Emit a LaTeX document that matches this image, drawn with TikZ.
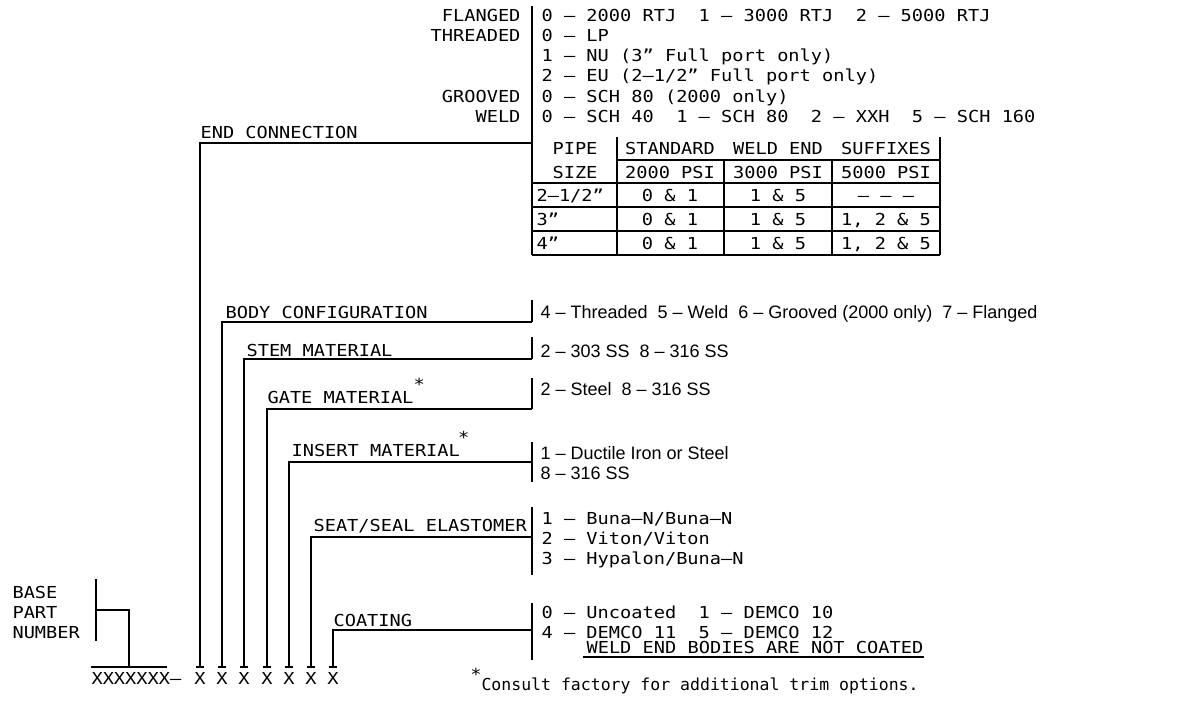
\documentclass[tikz,border=0pt]{standalone}
\usepackage{fontspec}
\newfontfamily\fa{DejaVu Sans Mono}[FakeStretch=1.13]
\newfontfamily\fc{DejaVu Sans Mono}[FakeStretch=1.0]
\newfontfamily\fb{Liberation Sans}
\begin{document}
\begin{tikzpicture}[x=1pt,y=-1pt,line width=1.1pt,
  ta/.style={font=\fa\fontsize{16.5}{18}\selectfont,inner sep=0pt},
  tc/.style={font=\fc\fontsize{16.5}{18}\selectfont,inner sep=0pt},
  tb/.style={font=\fb\fontsize{18}{20}\selectfont,inner sep=0pt}]
\useasboundingbox (0,0) rectangle (1185,704);

% ---------- END CONNECTION block ----------
\node[ta,anchor=base east] (flg) at (521,21) {FLANGED};
\node[ta,anchor=base west] (flgo) at (541,21) {0 — 2000 RTJ~~1 — 3000 RTJ~~2 — 5000 RTJ};
\node[ta,anchor=base east] (thr) at (521,41) {THREADED};
\node[ta,anchor=base west] (thr0) at (541,41) {0 — LP};
\node[ta,anchor=base west] (thr1) at (541,61) {1 — NU (3” Full port only)};
\node[ta,anchor=base west] (thr2) at (541,81) {2 — EU (2—1/2” Full port only)};
\node[ta,anchor=base east] (grv) at (521,102) {GROOVED};
\node[ta,anchor=base west] (grvo) at (541,102) {0 — SCH 80 (2000 only)};
\node[ta,anchor=base east] (wld) at (521,122) {WELD};
\node[ta,anchor=base west] (wldo) at (541,122) {0 — SCH 40~~1 — SCH 80~~2 — XXH~~5 — SCH 160};

% table
\coordinate (bt) at (532,6);
\coordinate (bb) at (532,255);
\draw (bt) -- (bb);
\draw (617,137) -- (617,255);
\draw (940,137) -- (940,255);
\draw (617,160) -- (940,160);
\draw (724,160) -- (724,255);
\draw (832,160) -- (832,255);
\foreach \yy in {183,207,231,255} \draw (532,\yy) -- (940,\yy);
\node[ta,anchor=base] (pipe) at (575,154) {PIPE};
\node[ta,anchor=base] (size) at (575,178) {SIZE};
\node[ta,anchor=base] (std) at (670,154) {STANDARD};
\node[ta,anchor=base] (we) at (778,154) {WELD END};
\node[ta,anchor=base] (suf) at (886,154) {SUFFIXES};
\node[ta,anchor=base] (p2) at (670,178) {2000 PSI};
\node[ta,anchor=base] (p3) at (778,178) {3000 PSI};
\node[ta,anchor=base] (p5) at (886,178) {5000 PSI};
\node[ta,anchor=base west] (r1a) at (536,201) {2—1/2”};
\node[ta,anchor=base] (r1b) at (670,201) {0 \& 1};
\node[ta,anchor=base] (r1c) at (778,201) {1 \& 5};
\node[ta,anchor=base] (r1d) at (886,201) {— — —};
\node[ta,anchor=base west] (r2a) at (536,225) {3”};
\node[ta,anchor=base] (r2b) at (670,225) {0 \& 1};
\node[ta,anchor=base] (r2c) at (778,225) {1 \& 5};
\node[ta,anchor=base] (r2d) at (886,225) {1, 2 \& 5};
\node[ta,anchor=base west] (r3a) at (536,249) {4”};
\node[ta,anchor=base] (r3b) at (670,249) {0 \& 1};
\node[ta,anchor=base] (r3c) at (778,249) {1 \& 5};
\node[ta,anchor=base] (r3d) at (886,249) {1, 2 \& 5};

% ---------- option bars ----------
\draw (532,300) -- (532,322);
\draw (532,337) -- (532,359);
\draw (532,378) -- (532,409);
\draw (532,442) -- (532,482);
\draw (532,507) -- (532,575);
\draw (532,603) -- (532,660);

% ---------- labels ----------
\node[ta,anchor=base west] (lend) at (200,138) {END CONNECTION};
\node[ta,anchor=base west] (lbody) at (225,318) {BODY CONFIGURATION};
\node[ta,anchor=base west] (lstem) at (246,356) {STEM MATERIAL};
\node[ta,anchor=base west] (lgate) at (267,403) {GATE MATERIAL};
\node[ta,anchor=base west] (sgate) at ([xshift=-1pt,yshift=13pt]lgate.base east) {*};
\node[ta,anchor=base west] (lins) at (291,456) {INSERT MATERIAL};
\node[ta,anchor=base west] (sins) at ([xshift=-3pt,yshift=13pt]lins.base east) {*};
\node[ta,anchor=base west] (lseat) at (313,531) {SEAT/SEAL ELASTOMER};
\node[ta,anchor=base west] (lcoat) at (333,626) {COATING};

% ---------- options ----------
\node[tb,anchor=base west] (obody) at (540,318) {4 – Threaded~~5 – Weld~~6 – Grooved (2000 only)~~7 – Flanged};
\node[tb,anchor=base west] (ostem) at (540,357) {2 – 303 SS~~8 – 316 SS};
\node[tb,anchor=base west] (ogate) at (540,395) {2 – Steel~~8 – 316 SS};
\node[tb,anchor=base west] (oins1) at (540,459) {1 – Ductile Iron or Steel};
\node[tb,anchor=base west] (oins2) at (540,479) {8 – 316 SS};
\node[ta,anchor=base west] (os1) at (541,524) {1 — Buna—N/Buna—N};
\node[ta,anchor=base west] (os2) at (541,544) {2 — Viton/Viton};
\node[ta,anchor=base west] (os3) at (541,564) {3 — Hypalon/Buna—N};
\node[ta,anchor=base west] (oc1) at (541,618) {0 — Uncoated~~1 — DEMCO 10};
\node[ta,anchor=base west] (oc2) at (541,638) {4 — DEMCO 11~~5 — DEMCO 12};
\node[ta,anchor=base west] (oc3) at (586,653) {WELD END BODIES ARE NOT COATED};
\draw ([xshift=-3pt,yshift=-4pt]oc3.base west) -- ([yshift=-4pt]oc3.base east);

% ---------- leaders ----------
\foreach \xx/\yy/\nm in {200/143/a,222/322/b,244/359/c,267/409/d,289/462/e,311/537/f,333/630/g}{
  \coordinate (foot\nm) at (\xx,667);
  \coordinate (knee\nm) at (\xx,\yy);
  \coordinate (end\nm) at (532,\yy);
  \draw (foot\nm) -- (knee\nm) -- (end\nm);
  \draw ([xshift=-4pt]foot\nm) -- ([xshift=4pt]foot\nm);
  \node[ta,anchor=base] (x\nm) at (\xx,684) {X};
}

% ---------- base part number ----------
\node[ta,anchor=base west] (bp1) at (12,598) {BASE};
\node[ta,anchor=base west] (bp2) at (12,618) {PART};
\node[ta,anchor=base west] (bp3) at (12,638) {NUMBER};
\draw (96,579) -- (96,641);
\draw (96,610) -- (129,610) -- (129,667);
\draw (91,667) -- (167,667);
\node[ta,anchor=base west] (bpx) at (91,684) {XXXXXXX—};

% ---------- footnote ----------
\node[ta,anchor=base] (fstar) at (476,680) {*};
\node[tc,anchor=base west] (fnote) at (481,690) {Consult factory for additional trim options.};
\end{tikzpicture}
\end{document}
